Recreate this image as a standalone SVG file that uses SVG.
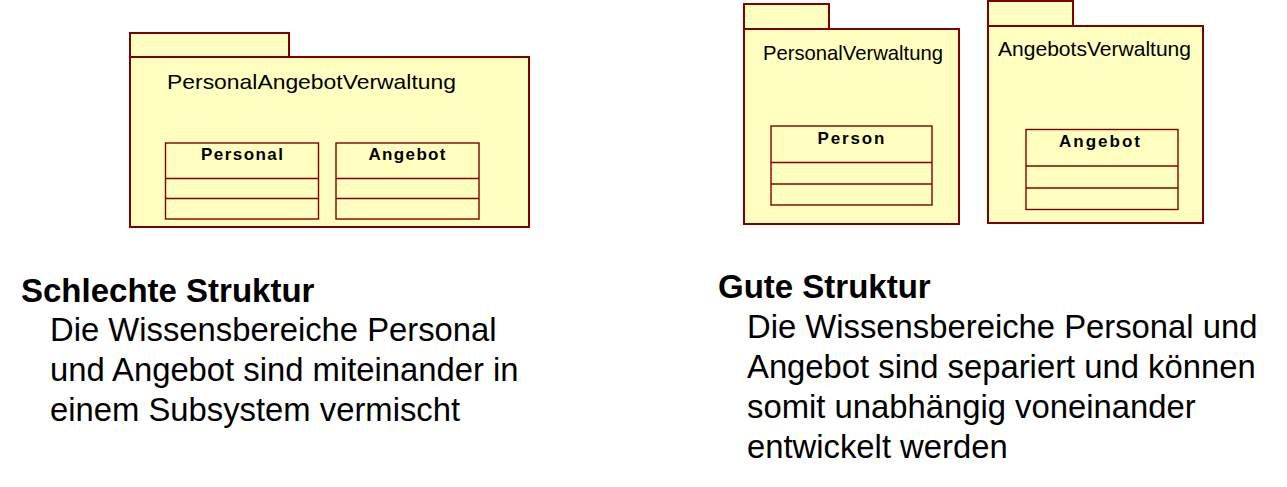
<svg xmlns="http://www.w3.org/2000/svg" width="1287" height="487" viewBox="0 0 1287 487">
<style>
.pkg{fill:#ffffc0;stroke:#800000;stroke-width:2}
.cls{fill:#ffffc0;stroke:#800000;stroke-width:1.4}
.div{stroke:#800000;stroke-width:1.4;fill:none}
.pt{font-family:"Liberation Sans",Arial,sans-serif;font-size:21px;fill:#000}
.ct{font-family:"Liberation Sans",Arial,sans-serif;font-size:17px;font-weight:bold;fill:#000;text-anchor:middle}
.h{font-family:"Liberation Sans",Arial,sans-serif;font-size:33px;font-weight:bold;fill:#000}
.b{font-family:"Liberation Sans",Arial,sans-serif;font-size:32.8px;fill:#000}
</style>
<rect width="1287" height="487" fill="#fff"/>
<g id="pkg-PersonalAngebotVerwaltung">
<rect class="pkg" x="130" y="33" width="159" height="24"/>
<rect class="pkg" x="130" y="57" width="399" height="170"/>
<text class="pt" x="167" y="89" font-size="22" textLength="289" lengthAdjust="spacingAndGlyphs">PersonalAngebotVerwaltung</text>
</g>
<g id="cls-Personal">
<rect class="cls" x="165.5" y="143" width="153" height="76"/>
<line class="div" x1="165.5" y1="178.5" x2="318.5" y2="178.5"/>
<line class="div" x1="165.5" y1="198.5" x2="318.5" y2="198.5"/>
<text class="ct" x="242" y="160" textLength="82" lengthAdjust="spacing">Personal</text>
</g>
<g id="cls-Angebot-left">
<rect class="cls" x="336" y="143" width="143" height="76"/>
<line class="div" x1="336" y1="178.5" x2="479" y2="178.5"/>
<line class="div" x1="336" y1="198.5" x2="479" y2="198.5"/>
<text class="ct" x="407" y="160" textLength="77" lengthAdjust="spacing">Angebot</text>
</g>
<g id="pkg-PersonalVerwaltung">
<rect class="pkg" x="744" y="4" width="85" height="25"/>
<rect class="pkg" x="744" y="29" width="215" height="195"/>
<text class="pt" x="763" y="60" textLength="180" lengthAdjust="spacingAndGlyphs">PersonalVerwaltung</text>
</g>
<g id="cls-Person">
<rect class="cls" x="771" y="126" width="161" height="79"/>
<line class="div" x1="771" y1="162.5" x2="932" y2="162.5"/>
<line class="div" x1="771" y1="184" x2="932" y2="184"/>
<text class="ct" x="851" y="144" textLength="67" lengthAdjust="spacing">Person</text>
</g>
<g id="pkg-AngebotsVerwaltung">
<rect class="pkg" x="988" y="1" width="85" height="25"/>
<rect class="pkg" x="988" y="26" width="215" height="197"/>
<text class="pt" x="998" y="56" textLength="193" lengthAdjust="spacingAndGlyphs">AngebotsVerwaltung</text>
</g>
<g id="cls-Angebot-right">
<rect class="cls" x="1026" y="129.5" width="152" height="80"/>
<line class="div" x1="1026" y1="166" x2="1178" y2="166"/>
<line class="div" x1="1026" y1="188" x2="1178" y2="188"/>
<text class="ct" x="1099.5" y="147" textLength="81" lengthAdjust="spacing">Angebot</text>
</g>
<g id="connectors"></g>
<g id="text-left">
<text class="h" x="21" y="302">Schlechte Struktur</text>
<text class="b" x="50" y="341">Die Wissensbereiche Personal</text>
<text class="b" x="50" y="381">und Angebot sind miteinander in</text>
<text class="b" x="50" y="421">einem Subsystem vermischt</text>
</g>
<g id="text-right">
<text class="h" x="718" y="298">Gute Struktur</text>
<text class="b" x="747" y="338">Die Wissensbereiche Personal und</text>
<text class="b" x="747" y="378">Angebot sind separiert und können</text>
<text class="b" x="747" y="418">somit unabhängig voneinander</text>
<text class="b" x="747" y="458">entwickelt werden</text>
</g>
</svg>
